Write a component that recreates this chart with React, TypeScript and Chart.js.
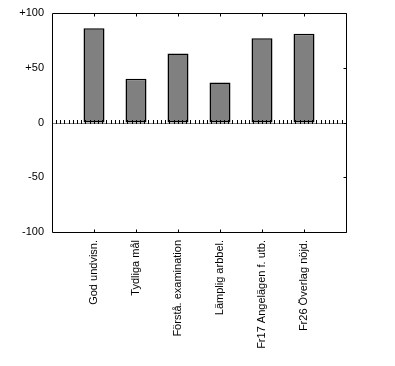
import React, { useEffect, useRef } from 'react';
import { Chart, registerables } from 'chart.js';

Chart.register(...registerables);

const categories = [
  'God undvisn.',
  'Tydliga mål',
  'Förstå. examination',
  'Lämplig arbbel.',
  'Fr17 Angelägen f. utb.',
  'Fr26 Överlag nöjd.',
];
const values = [86, 40, 63, 36.5, 77, 81];
const yMin = -100;
const yMax = 100;
const yStep = 50;

const FONT = "'Liberation Sans', Arial, sans-serif";

const framePlugin = {
  id: 'frame',
  afterDatasetsDraw(chart: any) {
    const { ctx, chartArea, scales } = chart;
    const { left, right, top, bottom } = chartArea;
    const x = scales.x;
    const y = scales.y;
    const L = Math.round(left) + 0.5;
    const R = Math.round(right) + 0.5;
    const T = Math.round(top) + 0.5;
    const B = Math.round(bottom) + 0.5;
    ctx.save();
    ctx.strokeStyle = '#000';
    ctx.lineWidth = 1;
    // zero line drawn as a row of small tick marks
    const y0 = Math.round(y.getPixelForValue(0)) + 0.5;
    ctx.beginPath();
    for (let px = left + 4; px < right - 1; px += 4.2) {
      const xx = Math.round(px) + 0.5;
      ctx.moveTo(xx, y0 + 0.5);
      ctx.lineTo(xx, y0 - 3.5);
    }
    ctx.stroke();
    ctx.beginPath();
    ctx.setLineDash([1, 1]);
    ctx.moveTo(L, y0);
    ctx.lineTo(R, y0);
    ctx.stroke();
    ctx.setLineDash([]);
    // frame
    ctx.beginPath();
    ctx.moveTo(L, T);
    ctx.lineTo(R, T);
    ctx.lineTo(R, B);
    ctx.lineTo(L, B);
    ctx.lineTo(L, T);
    ctx.stroke();
    // inward ticks on top and bottom at category positions
    ctx.beginPath();
    for (let i = 1; i < x.ticks.length - 1; i++) {
      const xx = Math.round(x.getPixelForTick(i)) + 0.5;
      ctx.moveTo(xx, T);
      ctx.lineTo(xx, T + 3);
      ctx.moveTo(xx, B);
      ctx.lineTo(xx, B - 3);
    }
    // inward ticks on right axis
    for (let v = yMin; v <= yMax; v += yStep) {
      const yy = Math.round(y.getPixelForValue(v)) + 0.5;
      ctx.moveTo(R, yy);
      ctx.lineTo(R - 3, yy);
    }
    ctx.stroke();
    ctx.restore();
  },
};

export default function App() {
  const ref = useRef<HTMLCanvasElement>(null);
  useEffect(() => {
    document.body.style.margin = '0';
    const labels = ['', ...categories, ''];
    const data = [null, ...values, null];
    const chart = new Chart(ref.current!, {
      type: 'bar',
      data: {
        labels,
        datasets: [
          {
            data,
            backgroundColor: '#808080',
            borderColor: '#000000',
            borderWidth: 1.5,
            borderSkipped: false,
            inflateAmount: 0,
            barPercentage: 0.5,
            categoryPercentage: 1,
          },
        ],
      },
      options: {
        responsive: false,
        animation: false,
        events: [],
        layout: { padding: { left: 0, right: 49, top: 13, bottom: 0 } },
        plugins: { legend: { display: false }, tooltip: { enabled: false } },
        scales: {
          x: {
            type: 'category',
            offset: false,
            grid: { display: false, drawTicks: false },
            border: { display: false },
            afterFit: (s: any) => {
              s.height = 134;
              s.paddingLeft = 0;
              s.paddingRight = 0;
            },
            ticks: {
              autoSkip: false,
              minRotation: 90,
              maxRotation: 90,
              padding: 8,
              color: '#000',
              font: { family: FONT, size: 11 },
            },
          },
          y: {
            min: yMin,
            max: yMax,
            grid: { display: false, drawTicks: false },
            border: { display: false },
            afterFit: (s: any) => {
              s.width = 52;
              s.paddingTop = 0;
              s.paddingBottom = 0;
            },
            ticks: {
              stepSize: yStep,
              padding: 8,
              color: '#000',
              font: { family: FONT, size: 11 },
              callback: (v: any) => (v > 0 ? '+' + v : String(v)),
            },
          },
        },
      },
      plugins: [framePlugin],
    });
    return () => chart.destroy();
  }, []);
  return (
    <div style={{ width: 395, height: 366 }}>
      <canvas ref={ref} width={395} height={366} />
    </div>
  );
}
